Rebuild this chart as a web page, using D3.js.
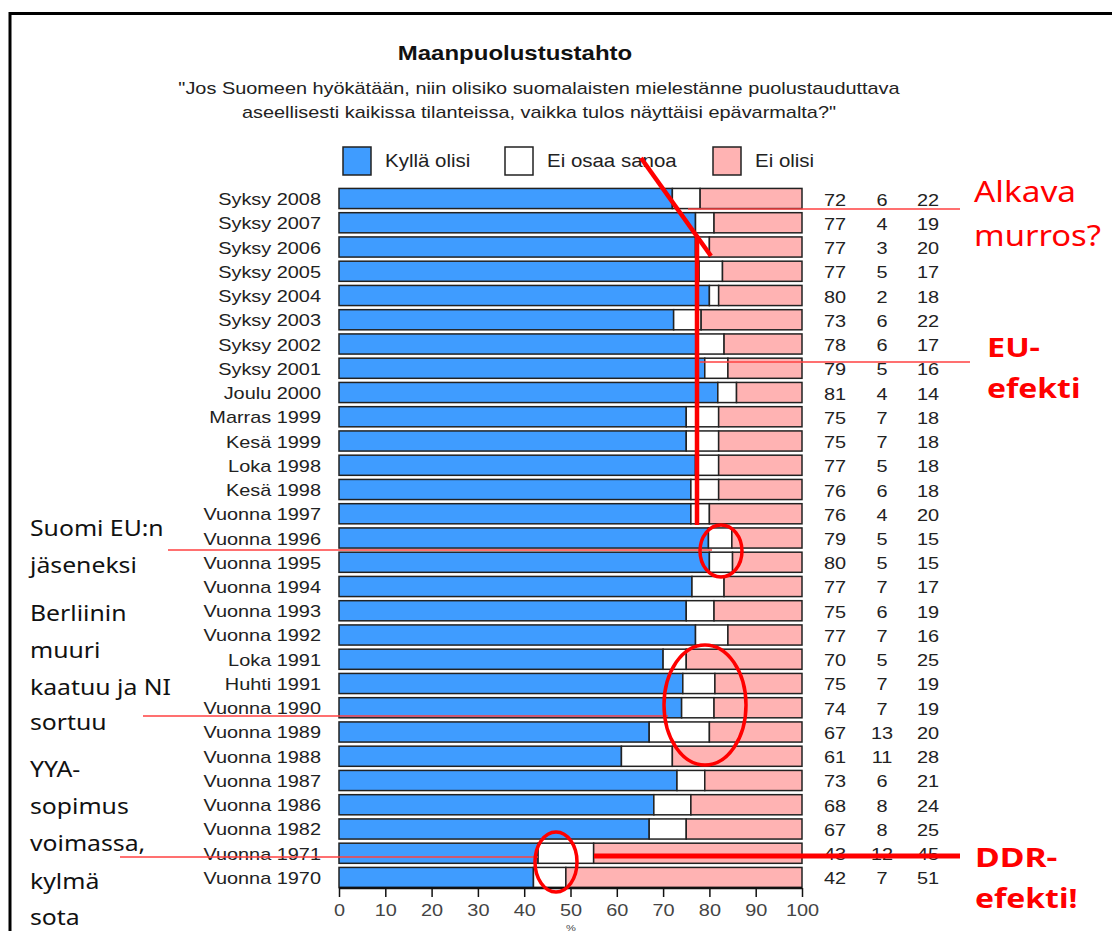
<!DOCTYPE html>
<html><head><meta charset="utf-8">
<script src="https://cdn.jsdelivr.net/npm/d3@7/dist/d3.min.js"></script>
<style>
html,body{margin:0;padding:0;background:#fff;}
svg{display:block;}
</style></head>
<body>
<svg id="chart" width="1112" height="931"></svg>
<script>
const categories = ["Syksy 2008","Syksy 2007","Syksy 2006","Syksy 2005","Syksy 2004","Syksy 2003","Syksy 2002","Syksy 2001","Joulu 2000","Marras 1999","Kesä 1999","Loka 1998","Kesä 1998","Vuonna 1997","Vuonna 1996","Vuonna 1995","Vuonna 1994","Vuonna 1993","Vuonna 1992","Loka 1991","Huhti 1991","Vuonna 1990","Vuonna 1989","Vuonna 1988","Vuonna 1987","Vuonna 1986","Vuonna 1982","Vuonna 1971","Vuonna 1970"];
const kyllaOlisi = [72,77,77,77,80,73,78,79,81,75,75,77,76,76,79,80,77,75,77,70,75,74,67,61,73,68,67,43,42];
const eiOsaaSanoa = [6,4,3,5,2,6,6,5,4,7,7,5,6,4,5,5,7,6,7,5,7,7,13,11,6,8,8,12,7];
const eiOlisi = [22,19,20,17,18,22,17,16,14,18,18,18,18,20,15,15,17,19,16,25,19,19,20,28,21,24,25,45,51];
const seriesNames = ["Kyllä olisi","Ei osaa sanoa","Ei olisi"];
const xTicks = [0,10,20,30,40,50,60,70,80,90,100];
const titleText = "Maanpuolustustahto";
const subtitleLines = ["\"Jos Suomeen hyökätään, niin olisiko suomalaisten mielestänne puolustauduttava","aseellisesti kaikissa tilanteissa, vaikka tulos näyttäisi epävarmalta?\""];
const leftNotes = ["Suomi EU:n","jäseneksi","Berliinin","muuri","kaatuu ja NI","sortuu","YYA-","sopimus","voimassa,","kylmä","sota"];

const colors = ["#3f9cff","#ffffff","#ffb3b3"];
const SX = 1.17; // horizontal stretch of the reference picture's text
const FF = "Liberation Sans, Arial, sans-serif";
const svg = d3.select("#chart");
const x = d3.scaleLinear().domain([0,100]).range([339,802]);
const y = d3.scaleBand().domain(categories).range([186.5,889.5]).paddingInner(0.17).paddingOuter(0.08);

function txt(parent,t,x0,y0,opts){
  const e = parent.append("text").attr("transform",`translate(${x0},${y0}) scale(${opts.sx||SX},1)`)
    .attr("font-family",opts.ff||FF).attr("font-size",opts.size).attr("fill",opts.fill||"#222")
    .attr("text-anchor",opts.anchor||"start").text(t);
  if(opts.bold) e.attr("font-weight","bold");
  return e;
}

// frame
svg.append("path").attr("d","M10,940 L10,13.5 L1120,13.5").attr("fill","none").attr("stroke","#000").attr("stroke-width",3);

// title
txt(svg,titleText,515,60,{size:20.5,bold:true,anchor:"middle",fill:"#111"});
subtitleLines.forEach((t,i)=>txt(svg,t,539,94+i*23.5,{size:17,anchor:"middle"}));

// legend
const legX = [343,505,713];
seriesNames.forEach((n,i)=>{
  svg.append("rect").attr("x",legX[i]).attr("y",147).attr("width",28).attr("height",28)
    .attr("fill",colors[i]).attr("stroke","#222").attr("stroke-width",1.5);
  txt(svg,n,legX[i]+42,167,{size:17.5});
});

// stacked data (each row drawn as shares of 100)
const rows = categories.map((c,i)=>({cat:c, v:[kyllaOlisi[i],eiOsaaSanoa[i],eiOlisi[i]]}));
const g = svg.append("g");
rows.forEach(r=>{
  const tot = d3.sum(r.v);
  let acc=0;
  r.v.forEach((v,k)=>{
    const a = acc/tot*100, b=(acc+v)/tot*100;
    g.append("rect").attr("x",x(a)).attr("y",y(r.cat)).attr("width",x(b)-x(a)).attr("height",y.bandwidth())
      .attr("fill",colors[k]).attr("stroke","#222").attr("stroke-width",1.5);
    acc+=v;
  });
  [835,882,928].forEach((cx,k)=>txt(g,r.v[k],cx,y(r.cat)+y.bandwidth()/2+7,{size:17,anchor:"middle"}));
  txt(g,r.cat,321,y(r.cat)+y.bandwidth()/2+6.5,{size:17,anchor:"end"});
});

// axis
const axisY = 888;
const ax = svg.append("g").attr("transform",`translate(0,${axisY})`)
  .call(d3.axisBottom(x).tickValues(xTicks).tickSize(9).tickPadding(7).tickFormat(d3.format("d")));
ax.select(".domain").attr("stroke","#111").attr("stroke-width",2.5).attr("d",`M${x(0)},0H${x(100)}`);
ax.selectAll(".tick line").attr("stroke","#111").attr("stroke-width",1.5);
ax.selectAll(".tick text").attr("font-family",FF).attr("font-size",17).attr("fill","#444")
  .attr("transform",`scale(${SX},1)`).attr("x",0);
txt(svg,"%",571,930.5,{size:9.5,anchor:"middle",fill:"#444"});

// red annotations
const red = "#ff0000";
const ann = svg.append("g");
function line(x1,y1,x2,y2,w,c){ann.append("line").attr("x1",x1).attr("y1",y1).attr("x2",x2).attr("y2",y2).attr("stroke",c||red).attr("stroke-width",w);}
line(688,209,960,209,1.5,"#ff4040");
line(641,158,711,256,4.5);
line(697,236,697,525,4.5);
line(700,362,970,362,1.5,"#ff4040");
line(168,550,712,550,1.5,"#ff4040");
line(143,716,668,716,1.5,"#ff4040");
line(120,857,538,857,1.5,"#ff4040");
line(594,856,960,856,5);
ann.append("ellipse").attr("cx",721).attr("cy",551).attr("rx",21).attr("ry",26).attr("fill","none").attr("stroke",red).attr("stroke-width",3.5);
ann.append("ellipse").attr("cx",705).attr("cy",705).attr("rx",41).attr("ry",60).attr("fill","none").attr("stroke",red).attr("stroke-width",3.5);
ann.append("ellipse").attr("cx",556).attr("cy",862).attr("rx",21).attr("ry",30).attr("fill","none").attr("stroke",red).attr("stroke-width",3.5);

const af = "Noto Sans, Open Sans, sans-serif";
txt(ann,"Alkava",974,202,{size:29,ff:af,fill:red,sx:1.15});
txt(ann,"murros?",974,246,{size:29,ff:af,fill:red,sx:1.13});
txt(ann,"EU-",987,357,{size:27,ff:af,fill:red,bold:true,sx:1.2});
txt(ann,"efekti",987,398,{size:27,ff:af,fill:red,bold:true,sx:1.18});
txt(ann,"DDR-",975,867,{size:27,ff:af,fill:red,bold:true,sx:1.25});
txt(ann,"efekti!",975,908,{size:27,ff:af,fill:red,bold:true,sx:1.18});

const leftY = [536,573,621,658,695,730,777,814,851,889,925];
leftNotes.forEach((t,i)=>txt(svg,t,30,leftY[i],{size:21,ff:af,fill:"#111",sx:1.18}));
</script>
</body></html>
